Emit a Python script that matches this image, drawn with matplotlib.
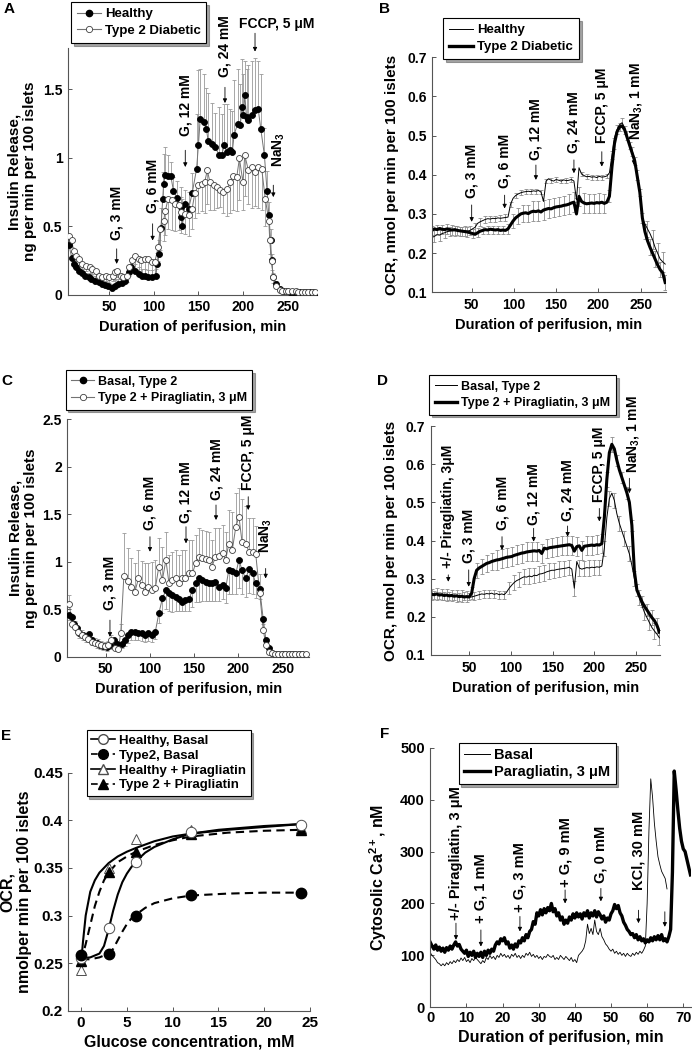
import numpy as np
import matplotlib
matplotlib.use('Agg')
import matplotlib.pyplot as plt
from matplotlib.lines import Line2D

plt.rcParams['font.family'] = ['Liberation Sans', 'DejaVu Sans']
plt.rcParams['font.weight'] = 'bold'
plt.rcParams['axes.labelweight'] = 'bold'
plt.rcParams['mathtext.fontset'] = 'custom'
plt.rcParams['mathtext.rm'] = 'Liberation Sans:bold'
plt.rcParams['mathtext.it'] = 'Liberation Sans:bold'
plt.rcParams['mathtext.bf'] = 'Liberation Sans:bold'
plt.rcParams['mathtext.default'] = 'rm'

MU = '\u03bc'

# ---------------- A: insulin release, healthy vs type 2 ----------------
a_h_t = [5, 8, 10, 13, 16, 19, 23, 27, 30, 34,
         38, 42, 45, 49, 53, 57, 60, 64, 68, 72,
         75, 79, 83, 87, 90, 94, 98, 102, 104, 106,
         108, 110, 111, 113, 116, 119, 122, 126, 130, 131,
         132, 135, 139, 143, 148, 150, 152, 156, 159, 161,
         165, 169, 173, 176, 179, 182, 185, 188, 190, 194,
         197, 199, 200.5, 202, 204, 206, 210, 214, 217, 220,
         224, 227, 229, 231, 232, 234, 237, 241, 245, 249,
         253, 256, 260, 264, 268, 271, 275, 279, 282]
a_h_v = [0.36, 0.27, 0.225, 0.20, 0.176, 0.156, 0.14, 0.127, 0.115, 0.103,
         0.09, 0.078, 0.07, 0.06, 0.05, 0.066, 0.078, 0.083, 0.103, 0.164,
         0.20, 0.176, 0.15, 0.14, 0.14, 0.13, 0.13, 0.14, 0.225, 0.30,
         0.486, 0.70, 0.81, 0.877, 0.87, 0.87, 0.76, 0.71, 0.64, 0.567,
         0.50, 0.665, 0.628, 0.74, 0.92, 1.09, 1.28, 1.26, 1.21, 1.12,
         1.10, 1.08, 1.02, 1.02, 1.09, 1.04, 1.055, 1.04, 1.165, 1.25,
         1.24, 1.37, 1.31, 1.46, 1.30, 1.275, 1.31, 1.35, 1.36, 1.21,
         1.02, 0.757, 0.58, 0.40, 0.25, 0.13, 0.078, 0.04, 0.03, 0.025,
         0.022, 0.02, 0.02, 0.018, 0.018, 0.017, 0.017, 0.017, 0.016]
a_h_err = [0.04, 0.04, 0.03, 0.03, 0.03, 0.03, 0.03, 0.03, 0.03, 0.03,
           0.03, 0.03, 0.03, 0.03, 0.03, 0.04, 0.04, 0.04, 0.04, 0.05,
           0.05, 0.05, 0.05, 0.05, 0.05, 0.05, 0.05, 0.05, 0.08, 0.10,
           0.15, 0.20, 0.22, 0.20, 0.15, 0.10, 0.10, 0.12, 0.15, 0.15,
           0.20, 0.10, 0.12, 0.15, 0.40, 0.55, 0.37, 0.35, 0.30, 0.35,
           0.30, 0.25, 0.35, 0.30, 0.30, 0.35, 0.30, 0.30, 0.40, 0.40,
           0.30, 0.35, 0.30, 0.25, 0.35, 0.40, 0.40, 0.38, 0.35, 0.40,
           0.20, 0.15, 0.10, 0.08, 0.05, 0.03, 0.02, 0.01, 0.01, 0.01,
           0.01, 0.01, 0.01, 0.01, 0.01, 0.01, 0.01, 0.01, 0.01]

a_d_t = [5, 8, 10, 13, 16, 20, 24, 28, 31, 35,
         39, 42, 46, 50, 54, 57, 59, 63, 66, 70,
         72, 76, 79, 83, 86, 90, 94, 98, 101, 105,
         107, 111, 113, 116, 120, 124, 128, 131, 135, 139,
         143, 146, 150, 154, 157, 160, 163, 167, 171, 174,
         178, 182, 186, 189, 193, 196, 200, 202, 206, 210,
         214, 217, 221, 225, 229, 230, 232, 234, 237, 241,
         244, 248, 251, 255, 259, 262, 266, 270, 273, 277, 281]
a_d_v = [0.43, 0.40, 0.32, 0.286, 0.26, 0.225, 0.21, 0.20, 0.188, 0.176,
         0.14, 0.127, 0.14, 0.127, 0.14, 0.164, 0.176, 0.14, 0.127, 0.14,
         0.20, 0.25, 0.286, 0.26, 0.25, 0.26, 0.26, 0.237, 0.237, 0.347,
         0.48, 0.54, 0.615, 0.70, 0.69, 0.665, 0.652, 0.603, 0.59, 0.58,
         0.628, 0.74, 0.80, 0.81, 0.82, 0.91, 0.82, 0.80, 0.787, 0.762,
         0.75, 0.775, 0.82, 0.87, 0.86, 0.995, 0.82, 1.02, 0.91, 0.933,
         0.897, 0.933, 0.92, 0.70, 0.54, 0.396, 0.244, 0.127, 0.066, 0.034,
         0.028, 0.025, 0.025, 0.024, 0.024, 0.023, 0.023, 0.023, 0.022, 0.022, 0.022]
a_d_err = [0.05, 0.05, 0.05, 0.04, 0.04, 0.04, 0.04, 0.04, 0.04, 0.04,
           0.04, 0.04, 0.04, 0.04, 0.04, 0.05, 0.05, 0.04, 0.04, 0.05,
           0.06, 0.08, 0.12, 0.10, 0.10, 0.12, 0.12, 0.10, 0.10, 0.10,
           0.15, 0.15, 0.18, 0.22, 0.22, 0.20, 0.18, 0.15, 0.15, 0.15,
           0.15, 0.18, 0.20, 0.20, 0.22, 0.25, 0.20, 0.18, 0.15, 0.12,
           0.15, 0.20, 0.22, 0.25, 0.25, 0.30, 0.20, 0.30, 0.25, 0.30,
           0.25, 0.30, 0.30, 0.20, 0.15, 0.10, 0.06, 0.04, 0.02, 0.01,
           0.01, 0.01, 0.01, 0.01, 0.01, 0.01, 0.01, 0.01, 0.01, 0.01, 0.01]

# ---------------- B: OCR, healthy vs type 2 ----------------
b_t = np.arange(3, 282, 3)
b_healthy = [.240, .243, .247, .246, .250, .252, .255, .256, .258, .257,
             .258, .256, .255, .257, .256, .258, .262, .266, .276, .280,
             .283, .286, .288, .287, .289, .288, .290, .289, .290, .291,
             .292, .325, .340, .347, .351, .354, .356, .357, .358, .357,
             .359, .358, .360, .356, .332, .384, .390, .386, .384, .388,
             .386, .384, .387, .385, .386, .388, .384, .336, .418, .402,
             .398, .395, .396, .394, .395, .393, .396, .394, .395, .397,
             .405, .450, .495, .515, .528, .533, .520, .500, .480, .460,
             .440, .400, .360, .290, .275, .262, .250, .235, .215, .200,
             .185, .178, .172]
b_healthy_err = [.015, .015, .014, .014, .013, .013, .012, .012, .012, .012,
                 .012, .012, .012, .012, .012, .012, .012, .012, .010, .010,
                 .008, .008, .008, .008, .008, .008, .008, .008, .008, .008,
                 .008, .006, .006, .006, .006, .006, .006, .006, .006, .006,
                 .006, .006, .006, .006, .006, .006, .006, .006, .006, .006,
                 .006, .006, .006, .006, .006, .006, .006, .006, .006, .006,
                 .006, .006, .006, .006, .006, .006, .006, .006, .006, .006,
                 .008, .010, .012, .012, .012, .012, .012, .012, .012, .012,
                 .012, .012, .012, .012, .015, .020, .025, .025, .025, .025,
                 .025, .025, .025]
b_t2d = [.258, .262, .260, .263, .261, .260, .262, .260, .259, .260,
         .258, .257, .256, .255, .254, .252, .250, .248, .252, .256,
         .258, .260, .259, .261, .260, .259, .260, .258, .259, .258,
         .262, .272, .282, .290, .295, .300, .302, .303, .301, .305,
         .307, .306, .308, .305, .310, .312, .314, .313, .316, .318,
         .319, .320, .322, .323, .325, .328, .330, .300, .345, .332,
         .328, .326, .327, .328, .327, .329, .328, .330, .327, .330,
         .345, .420, .480, .510, .522, .525, .515, .495, .475, .455,
         .435, .395, .355, .290, .255, .232, .215, .200, .185, .170,
         .158, .150, .125]
b_t2d_err = [.012, .012, .012, .012, .012, .012, .012, .012, .012, .012,
             .012, .012, .012, .012, .012, .012, .012, .012, .012, .012,
             .010, .010, .010, .010, .010, .010, .010, .010, .010, .010,
             .012, .015, .018, .020, .020, .020, .022, .022, .022, .022,
             .025, .025, .025, .025, .025, .025, .025, .025, .025, .025,
             .025, .025, .025, .025, .025, .025, .025, .025, .025, .025,
             .025, .025, .025, .025, .025, .025, .025, .025, .025, .025,
             .015, .015, .015, .010, .010, .010, .010, .010, .010, .010,
             .010, .010, .010, .015, .020, .020, .020, .020, .020, .020,
             .020, .020, .020]

# ---------------- C: insulin release, type 2 +/- piragliatin ----------------
c_b_t = [9, 11.5, 14, 17, 20, 24, 28, 31, 35, 40,
         43.5, 47, 51, 55, 59, 63, 68, 72, 75.5, 79,
         83, 87, 91, 94, 98, 102, 106, 110, 114, 118,
         121.5, 125, 129, 133, 136.5, 140, 144, 148, 151.5, 155,
         159, 163, 167, 170, 174, 178, 182, 185.5, 189, 193,
         197, 200.5, 204, 208, 212, 216, 219.5, 224, 228, 231,
         234, 237.5, 241, 245, 249, 253, 257, 260, 264, 268, 272]
c_b_v = [0.44, 0.414, 0.35, 0.30, 0.246, 0.228, 0.21, 0.24, 0.176, 0.147,
         0.123, 0.112, 0.105, 0.123, 0.176, 0.14, 0.14, 0.176, 0.228, 0.263,
         0.263, 0.253, 0.246, 0.228, 0.246, 0.228, 0.263, 0.456, 0.614, 0.702,
         0.667, 0.65, 0.632, 0.604, 0.58, 0.597, 0.604, 0.702, 0.772, 0.825,
         0.808, 0.79, 0.772, 0.772, 0.79, 0.737, 0.755, 0.72, 0.913, 0.906,
         0.878, 1.02, 0.913, 0.825, 0.92, 0.878, 0.772, 0.71, 0.393, 0.176,
         0.088, 0.042, 0.03, 0.028, 0.028, 0.027, 0.027, 0.026, 0.026, 0.026, 0.025]
c_b_err = [0.05, 0.05, 0.05, 0.05, 0.05, 0.05, 0.05, 0.06, 0.05, 0.05,
           0.04, 0.04, 0.04, 0.04, 0.05, 0.04, 0.05, 0.06, 0.08, 0.09,
           0.09, 0.08, 0.08, 0.07, 0.08, 0.07, 0.08, 0.10, 0.15, 0.20,
           0.18, 0.18, 0.15, 0.12, 0.10, 0.12, 0.12, 0.18, 0.20, 0.25,
           0.22, 0.20, 0.18, 0.18, 0.20, 0.15, 0.15, 0.15, 0.25, 0.25,
           0.22, 0.30, 0.25, 0.20, 0.25, 0.22, 0.15, 0.10, 0.05, 0.03,
           0.02, 0.01, 0.01, 0.01, 0.01, 0.01, 0.01, 0.01, 0.01, 0.01, 0.01]

c_p_t = [9, 11.5, 15, 19, 23, 26.5, 30, 34, 38, 41.5,
         45, 49, 53, 56.5, 60.5, 64, 67, 70.5, 75.5, 79,
         83, 87, 90.5, 94, 98, 102, 106, 110, 114, 118,
         121.5, 125, 129, 133, 136.5, 140, 144, 148, 151.5, 155,
         159, 163, 167, 170, 174, 178, 182, 185.5, 189, 193,
         197, 200.5, 204, 208, 212, 216, 219.5, 224, 228, 231,
         234, 237.5, 241, 245, 249, 253, 257, 260, 264, 268, 272, 276]
c_p_v = [0.555, 0.35, 0.316, 0.263, 0.228, 0.204, 0.183, 0.158, 0.147, 0.133,
         0.123, 0.112, 0.123, 0.176, 0.088, 0.077, 0.25, 0.85, 0.80, 0.737,
         0.685, 0.825, 0.755, 0.685, 0.737, 0.702, 0.72, 0.948, 0.808, 1.018,
         0.772, 0.808, 0.825, 0.772, 0.825, 0.825, 0.878, 0.878, 0.983, 1.053,
         1.036, 1.025, 1.018, 0.948, 1.053, 1.06, 1.088, 1.018, 1.19, 1.124,
         1.37, 1.475, 1.21, 1.19, 1.106, 1.106, 1.08, 0.667, 0.28, 0.123,
         0.053, 0.035, 0.03, 0.03, 0.028, 0.028, 0.028, 0.027, 0.027, 0.027, 0.026, 0.026]
c_p_err = [0.10, 0.08, 0.06, 0.05, 0.05, 0.05, 0.05, 0.05, 0.05, 0.05,
           0.04, 0.04, 0.04, 0.05, 0.05, 0.05, 0.10, 0.45, 0.35, 0.30,
           0.30, 0.30, 0.25, 0.30, 0.25, 0.30, 0.30, 0.30, 0.35, 0.30,
           0.30, 0.30, 0.30, 0.30, 0.30, 0.30, 0.35, 0.35, 0.30, 0.30,
           0.30, 0.30, 0.30, 0.28, 0.30, 0.30, 0.30, 0.30, 0.35, 0.40,
           0.35, 0.30, 0.45, 0.40, 0.35, 0.35, 0.30, 0.20, 0.10, 0.05,
           0.02, 0.01, 0.01, 0.01, 0.01, 0.01, 0.01, 0.01, 0.01, 0.01, 0.01, 0.01]

# ---------------- D: OCR, type 2 +/- piragliatin ----------------
d_t = np.arange(5, 280, 3)
d_basal = [.258, .257, .259, .256, .257, .255, .256, .254, .255, .253,
           .254, .252, .253, .254, .252, .253, .252, .254, .256, .258,
           .260, .259, .261, .260, .262, .259, .261, .258, .260, .258,
           .265, .275, .283, .290, .295, .298, .302, .305, .304, .307,
           .305, .309, .308, .312, .313, .315, .318, .320, .322, .322,
           .324, .325, .326, .327, .328, .330, .325, .275, .345, .328,
           .325, .327, .329, .328, .330, .329, .331, .330, .333, .380,
           .460, .510, .524, .505, .470, .445, .425, .405, .385, .365,
           .335, .300, .270, .250, .230, .212, .198, .185, .172, .163,
           .155, .145]
d_basal_err = [.010, .010, .010, .010, .010, .010, .010, .010, .010, .010,
               .010, .010, .010, .010, .010, .010, .010, .010, .010, .010,
               .010, .010, .010, .010, .010, .010, .010, .010, .010, .010,
               .012, .015, .018, .020, .020, .020, .020, .020, .020, .020,
               .020, .020, .020, .020, .020, .020, .020, .020, .020, .020,
               .020, .020, .020, .020, .020, .020, .020, .020, .020, .020,
               .020, .020, .020, .020, .020, .020, .020, .020, .020, .020,
               .020, .020, .020, .020, .020, .020, .020, .020, .020, .020,
               .020, .020, .020, .020, .020, .020, .020, .020, .020, .020,
               .020, .020]
d_pira = [.259, .258, .260, .257, .258, .256, .257, .255, .256, .254,
          .255, .253, .254, .252, .253, .252, .262, .300, .322, .328,
          .332, .336, .340, .342, .345, .347, .349, .350, .352, .354,
          .356, .357, .358, .361, .363, .365, .367, .368, .370, .371,
          .372, .373, .372, .374, .366, .380, .378, .381, .382, .383,
          .384, .385, .386, .387, .388, .389, .387, .372, .384, .386,
          .374, .385, .386, .387, .388, .387, .389, .388, .392, .460,
          .560, .630, .652, .640, .610, .585, .565, .545, .525, .500,
          .440, .320, .270, .255, .240, .228, .218, .208, .198, .190,
          .178, .160]
d_pira_err = [.015, .015, .015, .015, .015, .015, .015, .015, .015, .015,
              .015, .015, .015, .015, .015, .015, .015, .020, .020, .020,
              .020, .020, .022, .022, .022, .022, .025, .025, .025, .025,
              .025, .025, .025, .025, .025, .025, .025, .025, .025, .025,
              .025, .025, .025, .025, .025, .025, .025, .025, .025, .025,
              .025, .025, .025, .025, .025, .025, .025, .025, .025, .025,
              .025, .025, .025, .025, .025, .025, .025, .025, .025, .020,
              .020, .020, .020, .020, .015, .015, .015, .015, .015, .015,
              .015, .015, .015, .015, .015, .015, .015, .020, .020, .020,
              .020, .020]

# ---------------- E: OCR vs glucose ----------------
e_glucose = [0, 3, 6, 12, 24]
e_healthy_basal = [0.255, 0.287, 0.356, 0.388, 0.395]
e_t2_basal = [0.258, 0.260, 0.300, 0.322, 0.324]
e_healthy_pira = [0.243, 0.350, 0.380, 0.390, 0.392]
e_t2_pira = [0.252, 0.346, 0.367, 0.386, 0.390]
# fitted curves as drawn
e_fit_hb_x = [0, 1, 2, 2.5, 3, 3.5, 4, 4.5, 5, 5.5, 6, 7, 8, 10, 12, 15, 20, 24]
e_fit_hb_y = [0.255, 0.256, 0.260, 0.268, 0.285, 0.305, 0.322, 0.335, 0.344, 0.351,
              0.357, 0.366, 0.372, 0.380, 0.386, 0.390, 0.394, 0.396]
e_fit_hp_x = [0, 0.2, 0.5, 1, 1.5, 2, 3, 4, 5, 6, 8, 10, 12, 16, 20, 24]
e_fit_hp_y = [0.250, 0.272, 0.300, 0.325, 0.337, 0.345, 0.355, 0.362, 0.367, 0.371,
              0.378, 0.383, 0.386, 0.390, 0.393, 0.396]
e_fit_tp_x = [0, 0.5, 1, 1.5, 2, 2.5, 3, 4, 5, 6, 8, 10, 12, 16, 20, 24]
e_fit_tp_y = [0.252, 0.270, 0.290, 0.310, 0.325, 0.337, 0.345, 0.356, 0.362, 0.367,
              0.374, 0.379, 0.383, 0.387, 0.389, 0.390]
e_fit_tb_x = [0, 1, 2, 3, 3.5, 4, 4.5, 5, 5.5, 6, 7, 8, 10, 12, 16, 20, 24]
e_fit_tb_y = [0.254, 0.254, 0.256, 0.260, 0.265, 0.274, 0.283, 0.291, 0.297, 0.301,
              0.308, 0.313, 0.318, 0.321, 0.323, 0.324, 0.324]

# ---------------- F: cytosolic calcium ----------------
f_t_basal = np.arange(0, 66, 0.5)
f_basal = [105, 100, 96, 92, 86, 84, 80, 84, 80, 86, 82, 88, 84, 90,
           86, 92, 88, 95, 90, 96, 88, 92, 86, 94, 90, 96, 92, 88,
           84, 90, 86, 96, 92, 100, 94, 98, 92, 100, 96, 104, 98, 102,
           96, 100, 94, 102, 98, 104, 96, 100, 94, 100, 96, 104, 100, 106,
           98, 102, 96, 100, 94, 98, 92, 98, 96, 102, 98, 96, 100, 92,
           96, 92, 100, 96, 92, 98, 94, 90, 96, 88, 92, 86, 100, 104,
           108, 114, 128, 160, 142, 152, 140, 168, 146, 140, 152, 136, 130, 122,
           118, 112, 108, 112, 104, 108, 102, 106, 100, 104, 98, 104, 100, 98,
           104, 100, 106, 102, 108, 104, 110, 118, 200, 340, 440, 405, 355, 320,
           290, 275, 262, 255, 248, 228]
f_t_para = np.arange(0, 72.5, 0.5)
f_para = [125, 118, 112, 120, 110, 116, 108, 114, 106, 115, 110, 118, 112, 120,
          126, 118, 121, 112, 108, 104, 110, 98, 106, 100, 108, 96, 104, 98,
          106, 96, 108, 100, 110, 104, 112, 108, 120, 126, 122, 132, 128, 134,
          122, 126, 114, 120, 112, 122, 116, 128, 124, 134, 128, 140, 134, 146,
          150, 165, 160, 182, 176, 188, 178, 190, 182, 192, 186, 200, 184, 190,
          176, 182, 168, 174, 160, 168, 162, 174, 168, 180, 172, 182, 174, 180,
          170, 182, 176, 186, 172, 182, 176, 186, 174, 184, 178, 170, 176, 164,
          172, 168, 180, 186, 198, 190, 196, 182, 176, 164, 158, 150, 146, 140,
          142, 134, 140, 130, 136, 128, 132, 124, 130, 126, 134, 128, 136, 130,
          138, 130, 140, 128, 132, 126, 136, 150,
          260, 455, 420, 380, 345, 320, 305, 300, 285, 270, 255]

# ---------------- figure ----------------
W, H = 692, 1050
fig = plt.figure(figsize=(6.92, 10.5), dpi=100)

TICK_FS = 10
LABEL_FS = 10.5
NOTE_FS = 10


def box(l, r, t, b):
    return [l / W, 1 - b / H, (r - l) / W, (b - t) / H]


def style(ax, xlim, ylim, xt, yt, ylabs=None, fs=TICK_FS, xpad=4):
    ax.set_xlim(xlim)
    ax.set_ylim(ylim)
    for s in ['top', 'right']:
        ax.spines[s].set_visible(False)
    for s in ['left', 'bottom']:
        ax.spines[s].set_linewidth(0.8)
        ax.spines[s].set_color('#555555')
    ax.set_xticks(xt)
    ax.set_yticks(yt)
    if ylabs:
        ax.set_yticklabels(ylabs)
    ax.tick_params(direction='in', length=3, width=0.7, color='#555555',
                   labelsize=fs, pad=4)
    ax.tick_params(axis='x', pad=xpad)
    for lab in ax.get_xticklabels() + ax.get_yticklabels():
        lab.set_fontweight('bold')


def note(ax, x, y0, y1, text, ty, tx=None, fs=NOTE_FS):
    ax.annotate('', xy=(x, y1), xytext=(x, y0),
                arrowprops=dict(arrowstyle='-|>', color='k', lw=0.6,
                                mutation_scale=6, shrinkA=0, shrinkB=0))
    if text:
        ax.text(x if tx is None else tx, ty, text, rotation=90, ha='center',
                va='bottom', fontsize=fs, fontweight='bold')


def legend(ax, handles, labels, x, y, fs=9, hl=1.8, ls=0.35, bp=0.45):
    leg = ax.legend(handles, labels, loc='upper left',
                    bbox_to_anchor=(x / W, 1 - y / H),
                    bbox_transform=fig.transFigure, frameon=True,
                    fancybox=False, shadow=True, edgecolor='k', framealpha=1,
                    prop={'size': fs, 'weight': 'bold'}, handlelength=hl,
                    borderpad=bp, labelspacing=ls, handletextpad=0.3,
                    borderaxespad=0)
    leg.get_frame().set_linewidth(0.8)


def letter(x, y, s):
    fig.text(x / W, 1 - y / H, s, fontsize=11, fontweight='bold',
             ha='center', va='center')


def insulin_series(ax, t, v, err, filled, upper):
    yerr = [np.zeros(len(err)), err] if upper else [err, np.zeros(len(err))]
    ax.errorbar(t, v, yerr=yerr, fmt='none', ecolor='0.6', elinewidth=0.6,
                capsize=1.5, capthick=0.6, zorder=1)
    ax.plot(t, v, '-', color='0.45', lw=0.7, zorder=2)
    ax.plot(t, v, 'o', ms=4.3, mfc='k' if filled else 'white',
            mec='k' if filled else '0.25', mew=0.6, zorder=3)


ins_ylabel = 'Insulin Release,\nng per min per 100 islets'
ocr_ylabel = 'OCR, nmol per min per 100 islets'
dur_label = 'Duration of perifusion, min'

h_fill = Line2D([], [], color='0.45', lw=0.8, marker='o', ms=4.5, mfc='k', mec='k')
h_open = Line2D([], [], color='0.45', lw=0.8, marker='o', ms=4.5, mfc='white', mec='0.25', mew=0.6)
h_thin = Line2D([], [], color='k', lw=0.7)
h_thick = Line2D([], [], color='k', lw=2.4)

# ---- A ----
axA = fig.add_axes(box(68, 317, 48.3, 294.7))
insulin_series(axA, a_h_t, a_h_v, a_h_err, True, True)
insulin_series(axA, a_d_t, a_d_v, a_d_err, False, False)
style(axA, (3.8, 283), (0, 1.8), [50, 100, 150, 200, 250], [0, 0.5, 1, 1.5],
      ['0', '0.5', '1', '1.5'])
axA.set_ylabel(ins_ylabel, fontsize=LABEL_FS + 0.5, linespacing=1.15)
axA.yaxis.set_label_coords(-0.125, 0.5)
axA.set_xlabel(dur_label, fontsize=LABEL_FS)
axA.xaxis.set_label_coords(0.5, -0.103)
note(axA, 58.4, 0.335, 0.225, 'G, 3 mM', 0.40)
note(axA, 98.7, 0.518, 0.396, 'G, 6 mM', 0.595)
note(axA, 135.3, 1.055, 0.933, 'G, 12 mM', 1.16)
note(axA, 179.8, 1.515, 1.40, 'G, 24 mM', 1.59)
note(axA, 213.5, 1.91, 1.776, '', 0)
axA.text(238, 1.98, 'FCCP, 5 ' + MU + 'M', ha='center', va='center',
         fontsize=NOTE_FS, fontweight='bold')
note(axA, 234, 0.80, 0.713, 'NaN$_3$', 0.93, tx=240)
legend(axA, [h_fill, h_open], ['Healthy', 'Type 2 Diabetic'], 71, 2, fs=9.5)
letter(9, 9, 'A')

# ---- B ----
axB = fig.add_axes(box(432.3, 665.7, 57.3, 292.3))
axB.errorbar(b_t, b_healthy, yerr=b_healthy_err, errorevery=(1, 2), fmt='-',
             color='k', lw=0.7, ecolor='0.55', elinewidth=0.6, capsize=1.5,
             capthick=0.6)
axB.errorbar(b_t, b_t2d, yerr=b_t2d_err, errorevery=(0, 2), fmt='-',
             color='k', lw=2.2, ecolor='0.55', elinewidth=0.6, capsize=1.5,
             capthick=0.6)
style(axB, (3.4, 279.6), (0.1, 0.7), [50, 100, 150, 200, 250],
      [0.1, 0.2, 0.3, 0.4, 0.5, 0.6, 0.7],
      ['0.1', '0.2', '0.3', '0.4', '0.5', '0.6', '0.7'])
axB.set_ylabel(ocr_ylabel, fontsize=LABEL_FS + 0.5)
axB.yaxis.set_label_coords(-0.143, 0.5)
axB.set_xlabel(dur_label, fontsize=LABEL_FS)
axB.xaxis.set_label_coords(0.5, -0.109)
note(axB, 50, 0.323, 0.280, 'G, 3 mM', 0.340)
note(axB, 89, 0.348, 0.314, 'G, 6 mM', 0.366)
note(axB, 126, 0.425, 0.387, 'G, 12 mM', 0.438)
note(axB, 171, 0.438, 0.404, 'G, 24 mM', 0.455)
note(axB, 204, 0.459, 0.421, 'FCCP, 5 ' + MU + 'M', 0.480)
note(axB, 242, 0.446, 0.425, 'NaN$_3$, 1 mM', 0.489, tx=245)
legend(axB, [h_thin, h_thick], ['Healthy', 'Type 2 Diabetic'], 443.3, 18.3, fs=9.5)
letter(385, 9, 'B')

# ---- C ----
axC = fig.add_axes(box(67.3, 309.3, 419.3, 656.8))
insulin_series(axC, c_b_t, c_b_v, c_b_err, True, False)
insulin_series(axC, c_p_t, c_p_v, c_p_err, False, True)
style(axC, (6.6, 280), (0, 2.5), [50, 100, 150, 200, 250],
      [0, 0.5, 1, 1.5, 2, 2.5], ['0', '0.5', '1', '1.5', '2', '2.5'])
axC.set_ylabel(ins_ylabel, fontsize=LABEL_FS + 0.5, linespacing=1.15)
axC.yaxis.set_label_coords(-0.121, 0.5)
axC.set_xlabel(dur_label, fontsize=LABEL_FS)
axC.xaxis.set_label_coords(0.5, -0.106)
note(axC, 54.8, 0.386, 0.21, 'G, 3 mM', 0.49)
note(axC, 100, 1.264, 1.106, 'G, 6 mM', 1.334)
note(axC, 140.7, 1.369, 1.194, 'G, 12 mM', 1.404)
note(axC, 174.6, 1.598, 1.44, 'G, 24 mM', 1.65)
note(axC, 211, 1.685, 1.545, 'FCCP, 5 ' + MU + 'M', 1.755)
note(axC, 230.7, 0.93, 0.825, 'NaN$_3$', 1.09)
legend(axC, [h_fill, h_open], ['Basal, Type 2', 'Type 2 + Piragliatin, 3 ' + MU + 'M'],
       65.7, 370)
letter(7, 381, 'C')

# ---- D ----
axD = fig.add_axes(box(431, 660, 426, 655))
axD.errorbar(d_t, d_basal, yerr=d_basal_err, errorevery=(1, 2), fmt='-',
             color='k', lw=0.7, ecolor='0.55', elinewidth=0.6, capsize=1.5,
             capthick=0.6)
axD.errorbar(d_t, d_pira, yerr=d_pira_err, errorevery=(0, 2), fmt='-',
             color='k', lw=2.2, ecolor='0.55', elinewidth=0.6, capsize=1.5,
             capthick=0.6)
style(axD, (4.3, 278.7), (0.1, 0.7), [50, 100, 150, 200, 250],
      [0.1, 0.2, 0.3, 0.4, 0.5, 0.6, 0.7],
      ['0.1', '0.2', '0.3', '0.4', '0.5', '0.6', '0.7'])
axD.set_ylabel(ocr_ylabel, fontsize=LABEL_FS + 0.5)
axD.yaxis.set_label_coords(-0.144, 0.5)
axD.set_xlabel(dur_label, fontsize=LABEL_FS)
axD.xaxis.set_label_coords(0.5, -0.112)
note(axD, 25, 0.31, 0.292, '+/- Piragliatin, 3' + MU + 'M', 0.327)
note(axD, 49.5, 0.323, 0.279, 'G, 3 mM', 0.340)
note(axD, 89.4, 0.41, 0.375, 'G, 6 mM', 0.428)
note(axD, 127.3, 0.432, 0.397, 'G, 12 mM', 0.44)
note(axD, 168, 0.438, 0.41, 'G, 24 mM', 0.45)
note(axD, 206, 0.484, 0.45, 'FCCP, 5 ' + MU + 'M', 0.50)
note(axD, 242, 0.563, 0.524, 'NaN$_3$, 1 mM', 0.576, tx=246)
legend(axD, [h_thin, h_thick], ['Basal, Type 2', 'Type 2 + Piragliatin, 3 ' + MU + 'M'],
       429.3, 375)
letter(383, 381, 'D')

# ---- E ----
axE = fig.add_axes(box(68.3, 310, 772.7, 1010.7))
dash = (0, (4, 2.5))
axE.plot(e_fit_hb_x, e_fit_hb_y, '-', color='k', lw=1.5, zorder=2)
axE.plot(e_fit_hp_x, e_fit_hp_y, '-', color='k', lw=1.5, zorder=2)
axE.plot(e_fit_tp_x, e_fit_tp_y, color='k', lw=1.5, ls=dash, zorder=2)
axE.plot(e_fit_tb_x, e_fit_tb_y, color='k', lw=1.5, ls=dash, zorder=2)
axE.plot(e_glucose, e_healthy_pira, '^', ms=7.5, mfc='white', mec='0.3', mew=0.7, zorder=3)
axE.plot(e_glucose, e_t2_pira, '^', ms=7, mfc='k', mec='k', zorder=4)
axE.plot(e_glucose, e_healthy_basal, 'o', ms=7.5, mfc='white', mec='0.3', mew=0.7, zorder=5)
axE.plot(e_glucose, e_t2_basal, 'o', ms=7.5, mfc='k', mec='k', zorder=5)
style(axE, (-1.4, 25), (0.2, 0.45), [0, 5, 10, 15, 20, 25],
      [0.2, 0.25, 0.3, 0.35, 0.4, 0.45],
      ['0.2', '0.25', '0.3', '0.35', '0.4', '0.45'], fs=11)
axE.set_ylabel('OCR,\nnmolper min per 100 islets', fontsize=11.5, linespacing=1.15)
axE.yaxis.set_label_coords(-0.15, 0.5)
axE.set_xlabel('Glucose concentration, mM', fontsize=11.5)
axE.xaxis.set_label_coords(0.5, -0.1)
e_handles = [
    Line2D([], [], color='k', lw=1.2, marker='o', ms=7, mfc='white', mec='0.3'),
    Line2D([], [], color='k', lw=1.2, ls=dash, marker='o', ms=7, mfc='k', mec='k'),
    Line2D([], [], color='k', lw=1.2, marker='^', ms=7, mfc='white', mec='0.3'),
    Line2D([], [], color='k', lw=1.2, ls=dash, marker='^', ms=7, mfc='k', mec='k'),
]
legend(axE, e_handles, ['Healthy, Basal', 'Type2, Basal', 'Healthy + Piragliatin',
                        'Type 2 + Piragliatin'], 86.7, 730, fs=9.5, ls=0.2, bp=0.35)
letter(6, 736, 'E')

# ---- F ----
axF = fig.add_axes(box(430.3, 690.5, 747.7, 1007.3))
axF.plot(f_t_basal, f_basal, '-', color='k', lw=0.6)
axF.plot(f_t_para, f_para, '-', color='k', lw=2.4)
style(axF, (0, 72), (0, 500), [0, 10, 20, 30, 40, 50, 60, 70],
      [0, 100, 200, 300, 400, 500], fs=10.5, xpad=2.5)
axF.set_ylabel('Cytosolic Ca$^{2+}$, nM', fontsize=11.5)
axF.yaxis.set_label_coords(-0.159, 0.5)
axF.set_xlabel(dur_label, fontsize=11.5)
axF.xaxis.set_label_coords(0.5, -0.088)
note(axF, 7.1, 162, 130, '+/- Piragliatin, 3 ' + MU + 'M', 168, fs=10.5)
note(axF, 14, 149, 117, '+ G, 1 mM', 162, fs=10.5)
note(axF, 24.8, 175, 146, '+ G, 3 mM', 184, fs=10.5)
note(axF, 37.3, 226, 200, '+ G, 9 mM', 232, fs=10.5)
note(axF, 47.2, 229, 204, 'G, 0 mM', 239, fs=10.5)
note(axF, 57.6, 187, 162, 'KCl, 30 mM', 226, fs=10.5)
note(axF, 64.9, 184, 155, '', 0)
legend(axF, [h_thin, h_thick], ['Basal', 'Paragliatin, 3 ' + MU + 'M'], 458.7, 743.3,
       fs=10.5, ls=0.2, bp=0.35)
letter(385, 734, 'F')

fig.savefig('out.png', dpi=100)
